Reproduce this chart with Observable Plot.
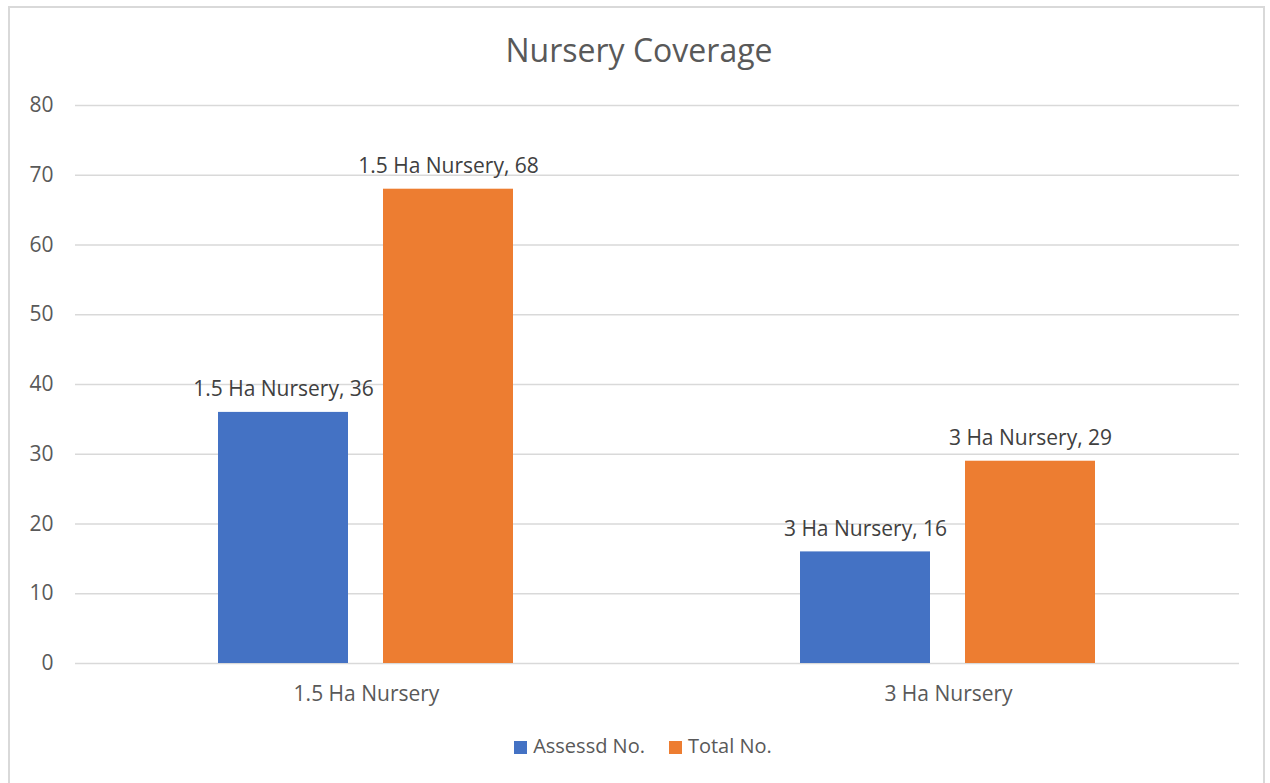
<!DOCTYPE html>
<html>
<head>
<meta charset="utf-8">
<script src="https://cdn.jsdelivr.net/npm/d3@7"></script>
<script src="https://cdn.jsdelivr.net/npm/@observablehq/plot@0.6"></script>
<style>
  html, body { margin: 0; padding: 0; background: #fff; overflow: hidden; }
  body { width: 1270px; height: 783px; position: relative; font-family: "Open Sans", Lato, sans-serif; }
  #frame { position: absolute; left: 8px; top: 6px; width: 1257px; height: 800px; border: 2px solid #d9d9d9; box-sizing: border-box; }
  #title { position: absolute; left: 0; width: 1278px; top: 28px; text-align: center; font-size: 32px; color: #595959; }
  #chart { position: absolute; left: 0; top: 0; }
  #legend { position: absolute; top: 732px; left: 0; width: 1286px; text-align: center; font-size: 20px; color: #595959; }
  .sw { display: inline-block; width: 13px; height: 13px; margin-right: 6px; vertical-align: -1px; }
  .item { display: inline-block; margin: 0 12px; }
</style>
</head>
<body>
<div id="frame"></div>
<div id="chart"></div>
<div id="title">Nursery Coverage</div>
<div id="legend"></div>
<script>
const categories = ["1.5 Ha Nursery", "3 Ha Nursery"];
const seriesNames = ["Assessd No.", "Total No."];
const assessed = [36, 16];
const total = [68, 29];
const seriesColors = ["#4472C4", "#ED7D31"];
const yTicks = [0, 10, 20, 30, 40, 50, 60, 70, 80];

const data = [];
categories.forEach((c, i) => {
  data.push({category: c, series: seriesNames[0], value: assessed[i]});
  data.push({category: c, series: seriesNames[1], value: total[i]});
});

const chart = Plot.plot({
  width: 1270,
  height: 783,
  marginLeft: 74,
  marginRight: 31,
  marginTop: 105,
  marginBottom: 120,
  style: {fontFamily: "'Open Sans', Lato, sans-serif", fontSize: "21px", color: "#595959", background: "transparent"},
  fx: {domain: categories, padding: 0, label: null},
  x: {domain: seriesNames, paddingInner: 0.21, paddingOuter: 0.86, axis: null},
  y: {domain: [0, 80], ticks: yTicks, label: null},
  color: {domain: seriesNames, range: seriesColors},
  marks: [
    Plot.ruleY(yTicks, {stroke: "#d9d9d9", strokeWidth: 1.5}),
    Plot.barY(data, {fx: "category", x: "series", y: "value", fill: "series"}),
    Plot.text(data, {fx: "category", x: "series", y: "value", text: d => `${d.category}, ${d.value}`, lineAnchor: "bottom", dy: -16, fill: "#404040", fontSize: 21}),
    Plot.axisY({ticks: yTicks, tickSize: 0, tickPadding: 22, fontSize: 21, fill: "#595959", label: null}),
    Plot.axisFx({anchor: "bottom", tickSize: 0, tickPadding: 23, fontSize: 21, fill: "#595959", label: null})
  ]
});
document.getElementById("chart").appendChild(chart);

const legend = document.getElementById("legend");
seriesNames.forEach((s, i) => {
  const item = document.createElement("span");
  item.className = "item";
  const sw = document.createElement("span");
  sw.className = "sw";
  sw.style.background = seriesColors[i];
  item.appendChild(sw);
  item.appendChild(document.createTextNode(s));
  legend.appendChild(item);
});
</script>
</body>
</html>
